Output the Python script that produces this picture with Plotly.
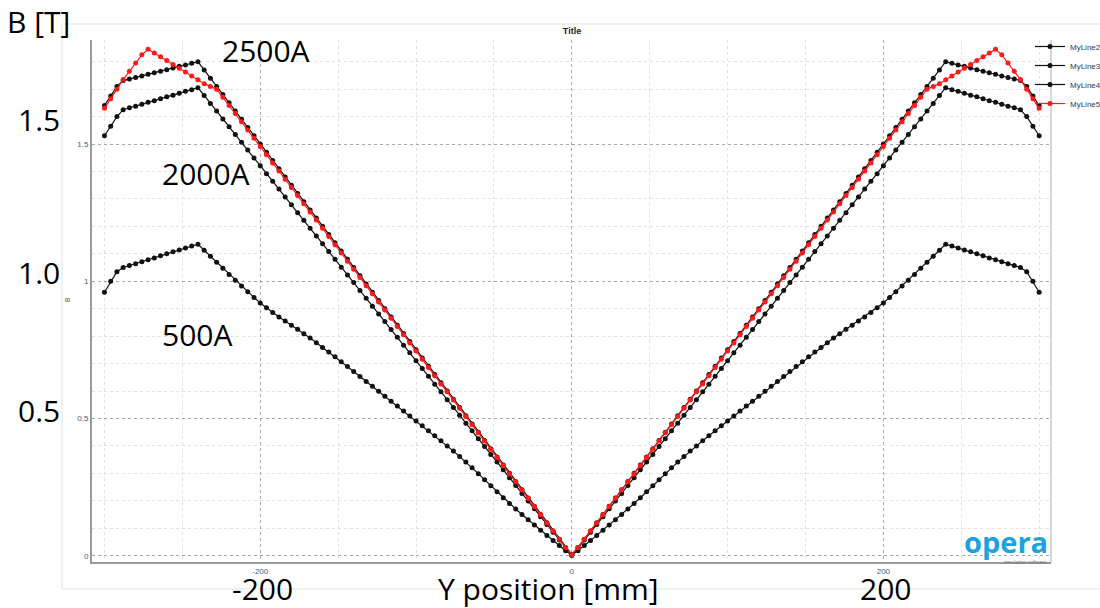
import plotly.graph_objects as go

# sample positions along Y [mm]
X_MM = list(range(-300, 301, 4))

# ---- values, left half (-300 .. 0 mm, step 4) ----
B_500A_LEFT = [0.960, 1.000, 1.035, 1.050, 1.057, 1.064, 1.071, 1.078, 1.085, 1.093, 1.100, 1.107, 1.114, 1.121, 1.128, 1.135,
               1.113, 1.091, 1.069, 1.047, 1.025, 1.004, 0.983, 0.962, 0.941, 0.921, 0.903, 0.886, 0.870, 0.855, 0.840, 0.825,
               0.809, 0.793, 0.776, 0.759, 0.742, 0.725, 0.707, 0.689, 0.671, 0.653, 0.635, 0.617, 0.599, 0.581, 0.563, 0.545,
               0.527, 0.509, 0.491, 0.473, 0.455, 0.437, 0.419, 0.400, 0.381, 0.361, 0.341, 0.320, 0.299, 0.277, 0.255, 0.233,
               0.211, 0.190, 0.170, 0.150, 0.131, 0.112, 0.093, 0.074, 0.055, 0.037, 0.018, 0.002]
B_2000A_LEFT = [1.530, 1.565, 1.600, 1.625, 1.632, 1.638, 1.645, 1.652, 1.658, 1.665, 1.672, 1.678, 1.685, 1.692, 1.698, 1.705,
                1.677, 1.648, 1.620, 1.591, 1.563, 1.535, 1.506, 1.478, 1.449, 1.421, 1.392, 1.364, 1.336, 1.307, 1.279, 1.250,
                1.222, 1.193, 1.165, 1.137, 1.108, 1.080, 1.051, 1.023, 0.995, 0.966, 0.938, 0.909, 0.881, 0.853, 0.824, 0.796,
                0.767, 0.739, 0.710, 0.682, 0.654, 0.625, 0.597, 0.568, 0.540, 0.512, 0.483, 0.455, 0.426, 0.398, 0.369, 0.341,
                0.313, 0.284, 0.256, 0.227, 0.199, 0.171, 0.142, 0.114, 0.085, 0.057, 0.028, 0.002]
B_2500A_LEFT = [1.640, 1.675, 1.710, 1.731, 1.737, 1.742, 1.748, 1.754, 1.760, 1.765, 1.771, 1.777, 1.783, 1.788, 1.794, 1.800,
                1.770, 1.740, 1.710, 1.680, 1.650, 1.620, 1.590, 1.560, 1.530, 1.500, 1.470, 1.440, 1.410, 1.380, 1.350, 1.320,
                1.290, 1.260, 1.230, 1.200, 1.170, 1.140, 1.110, 1.080, 1.050, 1.020, 0.990, 0.960, 0.930, 0.900, 0.870, 0.840,
                0.810, 0.780, 0.750, 0.720, 0.690, 0.660, 0.630, 0.600, 0.570, 0.540, 0.510, 0.480, 0.450, 0.420, 0.390, 0.360,
                0.330, 0.300, 0.270, 0.240, 0.210, 0.180, 0.150, 0.120, 0.090, 0.060, 0.030, 0.004]
B_RED_LEFT = [1.630, 1.665, 1.700, 1.735, 1.765, 1.795, 1.825, 1.845, 1.832, 1.818, 1.804, 1.790, 1.776, 1.762, 1.748, 1.734,
              1.720, 1.710, 1.700, 1.670, 1.640, 1.611, 1.581, 1.551, 1.521, 1.491, 1.461, 1.431, 1.402, 1.372, 1.342, 1.312,
              1.282, 1.252, 1.223, 1.193, 1.163, 1.133, 1.103, 1.073, 1.044, 1.014, 0.984, 0.954, 0.924, 0.895, 0.865, 0.835,
              0.805, 0.775, 0.746, 0.716, 0.686, 0.656, 0.626, 0.597, 0.567, 0.537, 0.507, 0.477, 0.448, 0.418, 0.388, 0.358,
              0.328, 0.298, 0.269, 0.239, 0.209, 0.179, 0.149, 0.119, 0.090, 0.060, 0.030, 0.003]

SERIES_NAMES = ["MyLine2", "MyLine3", "MyLine4", "MyLine5"]
SERIES_COLORS = ["#111111", "#111111", "#111111", "#ff1a1a"]
LEFT_HALVES = [B_500A_LEFT, B_2000A_LEFT, B_2500A_LEFT, B_RED_LEFT]

# plot area in pixels
L, R, T, B = 92, 1051, 40, 562


def px(x):
    return (x - L) / (R - L)


def py(y):
    return (B - y) / (B - T)


fig = go.Figure()
for name, color, left in zip(SERIES_NAMES, SERIES_COLORS, LEFT_HALVES):
    vals = left + left[-2::-1]
    fig.add_trace(go.Scatter(
        x=X_MM, y=vals, mode="lines+markers", name=name,
        line=dict(color=color, width=1.2),
        marker=dict(color=color, size=5),
    ))

tick_font = dict(family="Liberation Sans", size=8, color="#4a5a7a")
grid_major = "#a8a8a8"
grid_minor = "#e2e2e2"

fig.update_xaxes(
    range=[-308, 307.6], tickmode="array", tickvals=[-200, 0, 200], ticktext=["-200", "0", "200"],
    ticks="", tickfont=tick_font,
    showgrid=True, gridcolor=grid_major, griddash="dot", gridwidth=1,
    minor=dict(tickmode="linear", tick0=0, dtick=50, showgrid=True, gridcolor=grid_minor, griddash="dot", ticks=""),
    zeroline=False, showline=True, linecolor="#9a9a9a", linewidth=2,
)
fig.update_yaxes(
    range=[-0.023, 1.879], tickmode="array", tickvals=[0, 0.5, 1, 1.5], ticktext=["0", "0.5", "1", "1.5"],
    ticks="", tickfont=tick_font,
    showgrid=True, gridcolor=grid_major, griddash="dot", gridwidth=1,
    minor=dict(tickmode="linear", tick0=0, dtick=0.1, showgrid=True, gridcolor=grid_minor, griddash="dot", ticks=""),
    zeroline=False, showline=True, linecolor="#9a9a9a", linewidth=2,
)

big = dict(family="Open Sans", size=30, color="#000000")
ann = []


def add_text(text, x, y, font, xanchor="center", yanchor="middle", angle=0):
    ann.append(dict(text=text, x=px(x), y=py(y), xref="paper", yref="paper", showarrow=False,
                    xanchor=xanchor, yanchor=yanchor, font=font, textangle=angle))


add_text("B [T]", 38, 22, big)
add_text("1.5", 39, 120, big)
add_text("1.0", 39, 272, big)
add_text("0.5", 39, 410, big)
add_text("-200", 262, 588, big)
add_text("Y position [mm]", 548, 588, big)
add_text("200", 885, 588, big)
add_text("2500A", 266, 50, big)
add_text("2000A", 206, 174, big)
add_text("500A", 197, 334, big)
add_text("B", 67, 300, dict(family="Liberation Sans", size=7, color="#6a5a4a"), angle=-90)
add_text("<b>opera</b>", 1050, 541, dict(family="Open Sans", size=29, color="#1aa3df"), xanchor="right")
add_text("simulation software", 1049, 562, dict(family="Liberation Sans", size=5, color="#777777"), xanchor="right")

shapes = [
    dict(type="rect", xref="paper", yref="paper", x0=px(62), x1=px(1130), y0=py(589), y1=py(24),
         line=dict(color="#e3e3e3", width=1), layer="below"),
    dict(type="line", xref="paper", yref="paper", x0=1, x1=1, y0=0, y1=1,
         line=dict(color="#b0b0b0", width=1)),
]

fig.update_layout(
    width=1100, height=608,
    margin=dict(l=L, r=1100 - R, t=T, b=608 - B, autoexpand=False),
    paper_bgcolor="white", plot_bgcolor="white",
    title=dict(text="<b>Title</b>", x=px(572), xref="paper", xanchor="center",
               y=1 - 31 / 608, yanchor="middle", font=dict(family="Liberation Sans", size=9, color="#222")),
    showlegend=True,
    legend=dict(x=px(1030), y=py(32), xanchor="left", yanchor="top", bgcolor="rgba(0,0,0,0)",
                font=dict(family="Liberation Sans", size=8, color="#2a3a5a"), itemwidth=30,
                tracegroupgap=0),
    annotations=ann, shapes=shapes,
)

fig.write_html("out.html")
